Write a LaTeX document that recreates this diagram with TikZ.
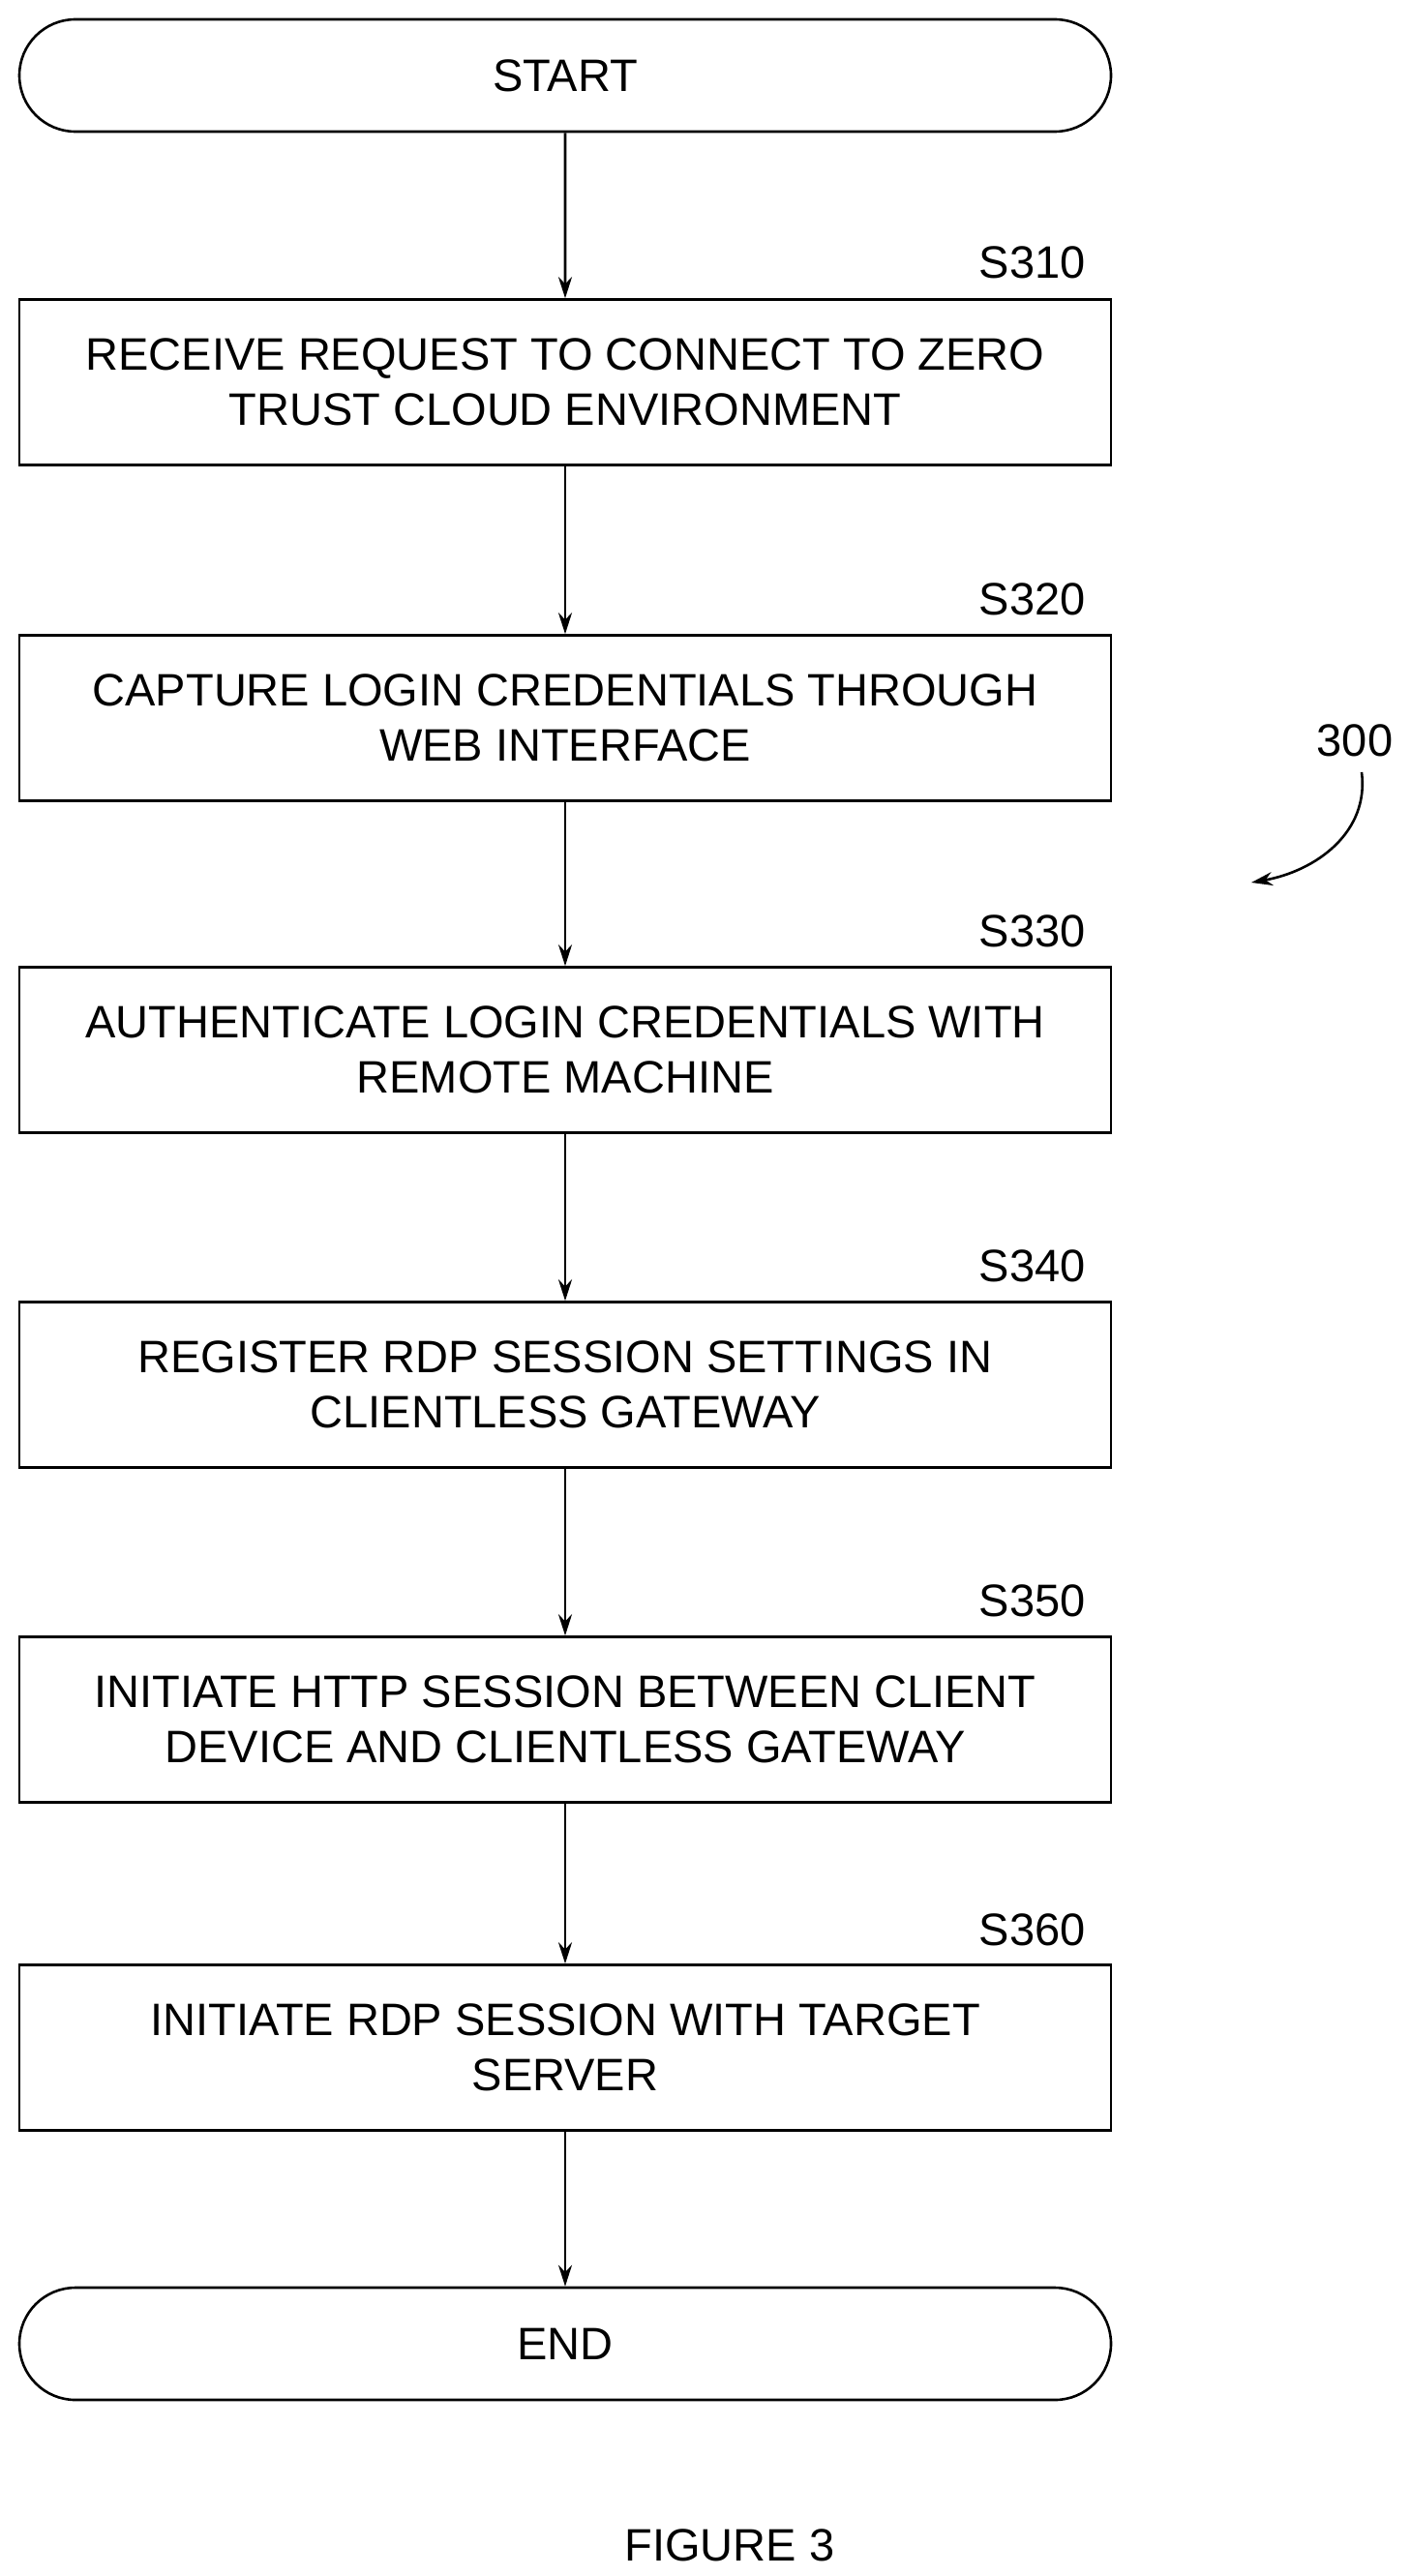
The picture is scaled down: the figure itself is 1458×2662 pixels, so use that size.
\documentclass[tikz,border=0pt]{standalone}
\usepackage{fontspec}
\setmainfont{Liberation Sans}
\usetikzlibrary{shapes.misc,arrows.meta}
\begin{document}
\begin{tikzpicture}[x=1pt,y=-1pt,
  every node/.style={font=\fontsize{47}{57}\selectfont},
  box/.style={draw,line width=2.6pt,minimum width=1128pt,minimum height=171pt,align=center,inner sep=0pt},
  term/.style={draw,line width=2.6pt,rounded rectangle,minimum width=1128pt,minimum height=116pt,inner sep=0pt},
  lab/.style={anchor=base east},
  arr/.style={line width=2.6pt,-{Stealth[length=22pt,width=14pt]}}]
\useasboundingbox (0,0) rectangle (1458,2662);
\node[term] (st) at (584,78) {START};
\node[box] (b1) at (584,395) {RECEIVE REQUEST TO CONNECT TO ZERO\\TRUST CLOUD ENVIRONMENT};
\node[box] (b2) at (584,742) {CAPTURE LOGIN CREDENTIALS THROUGH\\WEB INTERFACE};
\node[box] (b3) at (584,1085) {AUTHENTICATE LOGIN CREDENTIALS WITH\\REMOTE MACHINE};
\node[box] (b4) at (584,1431) {REGISTER RDP SESSION SETTINGS IN\\CLIENTLESS GATEWAY};
\node[box] (b5) at (584,1777) {INITIATE HTTP SESSION BETWEEN CLIENT\\DEVICE AND CLIENTLESS GATEWAY};
\node[box] (b6) at (584,2116) {INITIATE RDP SESSION WITH TARGET\\SERVER};
\node[term] (en) at (584,2422) {END};
\node[lab] (l1) at (1125,288) {S310};
\node[lab] (l2) at (1125,635) {S320};
\node[lab] (l3) at (1125,978) {S330};
\node[lab] (l4) at (1125,1324) {S340};
\node[lab] (l5) at (1125,1670) {S350};
\node[lab] (l6) at (1125,2010) {S360};
\node (n300) at (1400,765) {300};
\coordinate (c1) at (1407,798);
\coordinate (c2) at (1293,912);
\draw[arr] (c1) .. controls (1415,860) and (1360,900) .. (c2);
\node (fig) at (754,2630) {FIGURE 3};
\draw[arr] (st) -- (b1);
\draw[arr] (b1) -- (b2);
\draw[arr] (b2) -- (b3);
\draw[arr] (b3) -- (b4);
\draw[arr] (b4) -- (b5);
\draw[arr] (b5) -- (b6);
\draw[arr] (b6) -- (en);
\end{tikzpicture}
\end{document}
